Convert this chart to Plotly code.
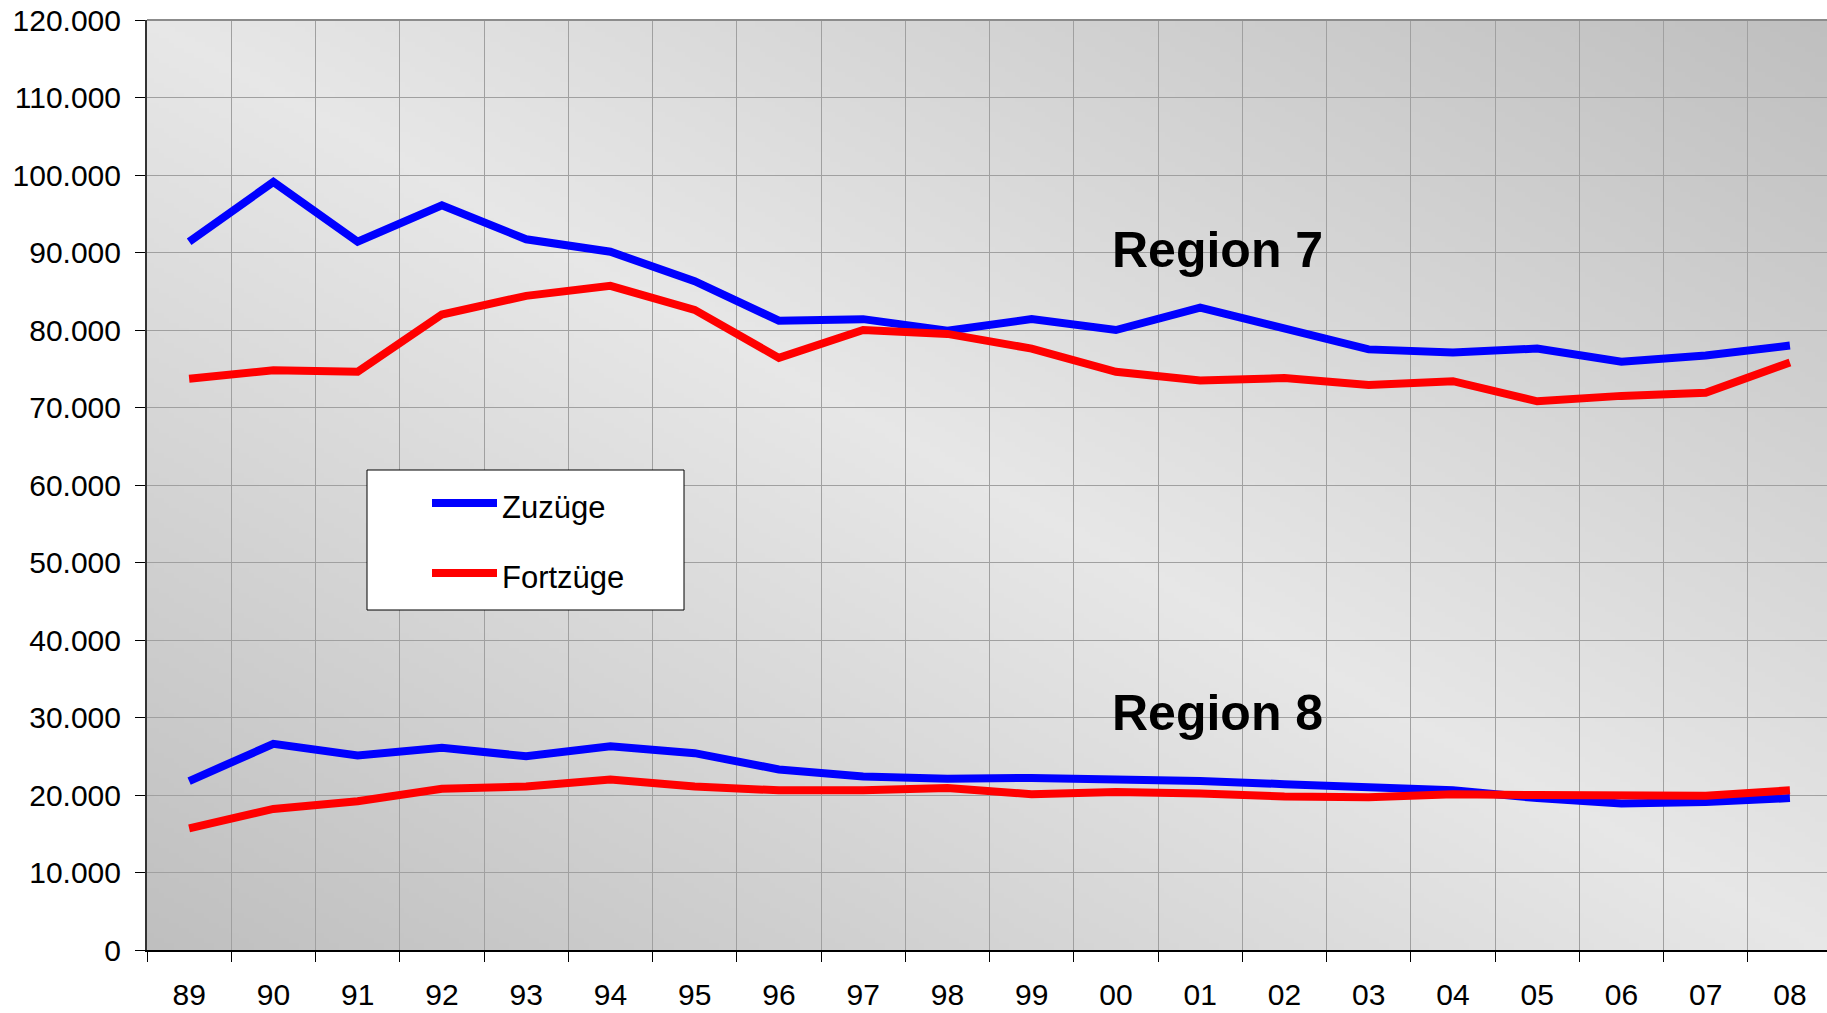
import base64
import struct
import zlib

import plotly.graph_objects as go

# ---------------- data ----------------
years = ["89", "90", "91", "92", "93", "94", "95", "96", "97", "98",
         "99", "00", "01", "02", "03", "04", "05", "06", "07", "08"]

zuzuege_r7 = [91400, 99100, 91400, 96100, 91700, 90100, 86300, 81200, 81400, 79900,
              81400, 80000, 82900, 80100, 77500, 77100, 77600, 75900, 76700, 78000]
fortzuege_r7 = [73700, 74800, 74600, 82000, 84400, 85700, 82600, 76400, 80000, 79500,
                77600, 74600, 73500, 73800, 72900, 73400, 70800, 71500, 71900, 75800]
zuzuege_r8 = [21800, 26600, 25100, 26100, 25000, 26300, 25400, 23300, 22400, 22100,
              22200, 22100, 21800, 21400, 21000, 20600, 19600, 18900, 19100, 19600]
fortzuege_r8 = [15700, 18200, 19200, 20800, 21100, 22000, 21100, 20600, 20600, 20900,
                20100, 20400, 20200, 19800, 19700, 20100, 20000, 19900, 19900, 20600]

y_ticks = list(range(0, 120001, 10000))
series_names = ["Zuzüge", "Fortzüge"]
region_labels = ["Region 7", "Region 8"]

BLUE = "#0000ff"
RED = "#ff0000"
FONT = "Liberation Sans, Arial, sans-serif"


# ---------------- background gradient (PNG built with stdlib) ----------------
def gradient_png(w, h):
    rows = []
    for j in range(h):
        row = bytearray([0])
        for i in range(w):
            v = i / (w - 1) - j / (h - 1)
            c = int(round(231 - 40 * abs(v)))
            row.append(c)
        rows.append(bytes(row))
    raw = b"".join(rows)

    def chunk(t, d):
        return struct.pack(">I", len(d)) + t + d + struct.pack(">I", zlib.crc32(t + d) & 0xFFFFFFFF)

    png = (b"\x89PNG\r\n\x1a\n"
           + chunk(b"IHDR", struct.pack(">IIBBBBB", w, h, 8, 0, 0, 0, 0))
           + chunk(b"IDAT", zlib.compress(raw, 9))
           + chunk(b"IEND", b""))
    return "data:image/png;base64," + base64.b64encode(png).decode()


bg = gradient_png(336, 186)

fig = go.Figure()

for name, vals, col in [(series_names[0], zuzuege_r7, BLUE),
                        (series_names[1], fortzuege_r7, RED),
                        (series_names[0], zuzuege_r8, BLUE),
                        (series_names[1], fortzuege_r8, RED)]:
    fig.add_trace(go.Scatter(
        x=years, y=vals, mode="lines", name=name,
        line=dict(color=col, width=8),
        showlegend=False,
    ))

# ---------------- layout ----------------
W, H = 1827, 1013
PL, PT, PB = 147, 20, 950          # plot area in window pixels
L, T, B = PL, PT, H - PB
plot_w = W - L
plot_h = PB - PT


def px_x(p):
    return (p - PL) / plot_w


def px_y(p):
    return (PB - p) / plot_h


shapes = [
    # top border
    dict(type="line", xref="paper", yref="paper", x0=0, x1=1, y0=1, y1=1,
         line=dict(color="#8c8c8c", width=2), layer="above"),
    # legend box
    dict(type="rect", xref="paper", yref="paper",
         x0=px_x(367), x1=px_x(684), y0=px_y(610), y1=px_y(470),
         fillcolor="white", line=dict(color="black", width=1), layer="above"),
    dict(type="line", xref="paper", yref="paper",
         x0=px_x(432), x1=px_x(497), y0=px_y(503), y1=px_y(503),
         line=dict(color=BLUE, width=8), layer="above"),
    dict(type="line", xref="paper", yref="paper",
         x0=px_x(432), x1=px_x(497), y0=px_y(573), y1=px_y(573),
         line=dict(color=RED, width=8), layer="above"),
]

annotations = [
    dict(text=series_names[0], xref="paper", yref="paper", x=px_x(500), y=px_y(507),
         xanchor="left", yanchor="middle", showarrow=False,
         font=dict(family=FONT, size=31, color="black")),
    dict(text=series_names[1], xref="paper", yref="paper", x=px_x(500), y=px_y(577),
         xanchor="left", yanchor="middle", showarrow=False,
         font=dict(family=FONT, size=31, color="black")),
    dict(text="<b>" + region_labels[0] + "</b>", x=12.2, y=90300, xref="x", yref="y",
         xanchor="center", yanchor="middle", showarrow=False,
         font=dict(family=FONT, size=50, color="black")),
    dict(text="<b>" + region_labels[1] + "</b>", x=12.2, y=30600, xref="x", yref="y",
         xanchor="center", yanchor="middle", showarrow=False,
         font=dict(family=FONT, size=50, color="black")),
]

fig.update_layout(
    width=W, height=H,
    margin=dict(l=L, r=0, t=T, b=B, pad=0),
    paper_bgcolor="white",
    plot_bgcolor="rgba(0,0,0,0)",
    separators=",.",
    font=dict(family=FONT, size=30, color="black"),
    showlegend=False,
    images=[dict(source=bg, xref="paper", yref="paper", x=0, y=1, sizex=1, sizey=1,
                 xanchor="left", yanchor="top", sizing="stretch", layer="below")],
    shapes=shapes,
    annotations=annotations,
    xaxis=dict(
        type="category", categoryorder="array", categoryarray=years,
        range=[-0.5, 19.44],
        tickson="boundaries", ticks="outside", ticklen=10, tickwidth=1, tickcolor="black",
        showgrid=True, gridcolor="#a0a0a0", gridwidth=1,
        showline=True, linecolor="black", linewidth=2,
        tickfont=dict(family=FONT, size=30, color="black"),
        ticklabelstandoff=17,
        zeroline=False, fixedrange=True,
    ),
    yaxis=dict(
        range=[0, 120000], tickvals=y_ticks, tickformat=",d",
        ticks="outside", ticklen=10, tickwidth=1, tickcolor="black",
        showgrid=True, gridcolor="#a0a0a0", gridwidth=1,
        showline=True, linecolor="#333333", linewidth=2,
        tickfont=dict(family=FONT, size=30, color="black"),
        ticklabelstandoff=8, ticklabeloverflow="allow",
        zeroline=False, fixedrange=True,
    ),
)

fig.write_html(
    "out.html",
    config={"displayModeBar": False},
    post_script="document.body.style.margin='0';document.body.style.overflow='hidden';",
)
